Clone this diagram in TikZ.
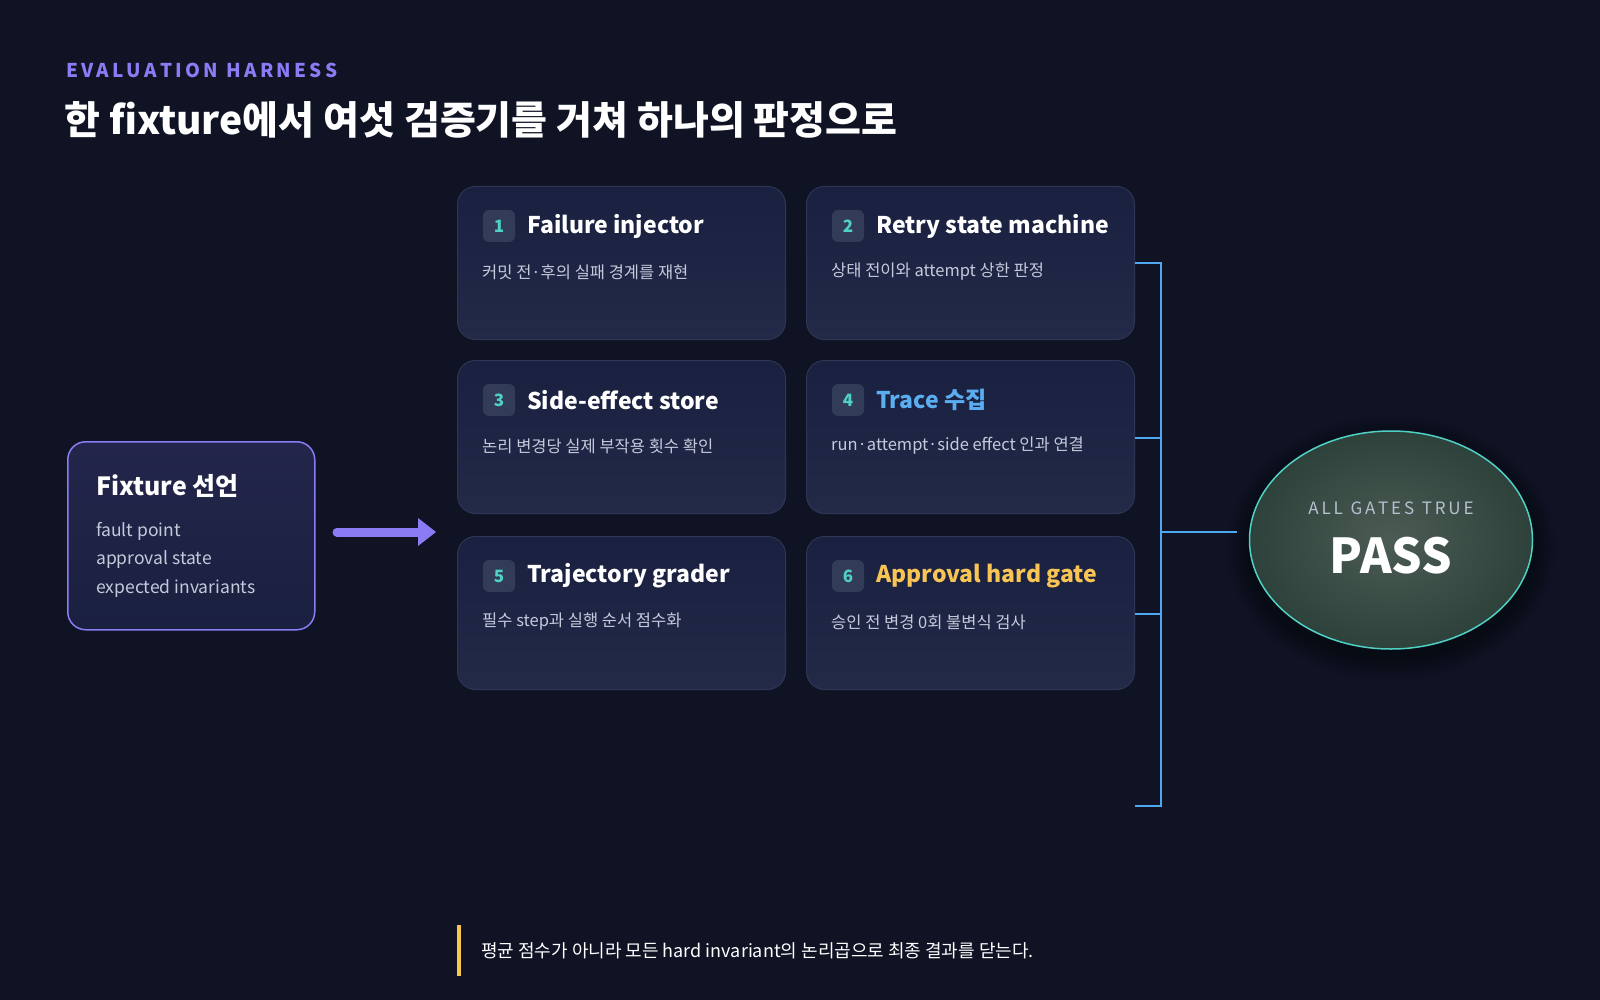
\documentclass[tikz,border=0pt]{standalone}
\usepackage{fontspec}
\setmainfont{Noto Sans CJK KR}
\usetikzlibrary{shapes.geometric}
\definecolor{bg}{HTML}{0F1324}
\definecolor{cardA}{HTML}{1A2040}
\definecolor{cardB}{HTML}{222A48}
\definecolor{cardline}{HTML}{2E3654}
\definecolor{badge}{HTML}{323B58}
\definecolor{teal}{HTML}{4FD1C5}
\definecolor{desc}{HTML}{C5CADB}
\definecolor{blue}{HTML}{5AAEF0}
\definecolor{gold}{HTML}{F8C555}
\definecolor{brk}{HTML}{4EA8F0}
\definecolor{purp}{HTML}{8B7CF6}
\definecolor{gates}{HTML}{B8C0D0}
\tikzset{x=1pt,y=-1pt,
 card/.style={draw=cardline,line width=1pt,rounded corners=18pt,top color=cardA,bottom color=cardB},
 badge/.style={fill=badge,rounded corners=6pt,minimum size=32pt,inner sep=0pt,text=teal,font=\bfseries\fontsize{17}{17}\selectfont},
 ctitle/.style={anchor=west,text=white,font=\bfseries\fontsize{23}{23}\selectfont,inner sep=0pt},
 cdesc/.style={anchor=west,text=desc,font=\fontsize{16.5}{16.5}\selectfont,inner sep=0pt},
 link/.style={draw=brk,line width=2.5pt}}
\begin{document}
\begin{tikzpicture}
\fill[bg] (0,0) rectangle (1600,1000);
\useasboundingbox (0,0) rectangle (1600,1000);
\node[anchor=west,inner sep=0pt,text=purp,font=\bfseries\fontsize{19}{19}\selectfont] (eyebrow) at (66,70) {E\,V\,A\,L\,U\,A\,T\,I\,O\,N\ \ H\,A\,R\,N\,E\,S\,S};
\node[anchor=west,inner sep=0pt,text=white,font=\bfseries\fontsize{39}{39}\selectfont] (head) at (64,120) {한 fixture에서 여섯 검증기를 거쳐 하나의 판정으로};
% cards
\foreach \n/\cx/\cy/\t/\d/\c in {
 1/457/186/Failure injector/커밋 전·후의 실패 경계를 재현/white,
 2/806/186/Retry state machine/상태 전이와 attempt 상한 판정/white,
 3/457/360/Side-effect store/논리 변경당 실제 부작용 횟수 확인/white,
 4/806/360/Trace 수집/run·attempt·side effect 인과 연결/blue,
 5/457/536/Trajectory grader/필수 step과 실행 순서 점수화/white,
 6/806/536/Approval hard gate/승인 전 변경 0회 불변식 검사/gold}{
 \node[card,anchor=north west,minimum width=328pt,minimum height=153pt] (c\n) at (\cx,\cy) {};
 \node[badge] (b\n) at (\cx+42,\cy+40) {\n};
 \node[ctitle,text=\c] (t\n) at (\cx+70,\cy+40) {\t};
 \node[cdesc] (d\n) at (\cx+25,\cy+86) {\d};
}
% fixture
\node[draw=purp,line width=1.5pt,rounded corners=18pt,top color=cardA!80!purp!60!bg,bottom color=cardA,anchor=north west,minimum width=247pt,minimum height=188pt] (fix) at (67,441) {};
\node[anchor=west,inner sep=0pt,text=white,font=\bfseries\fontsize{25}{25}\selectfont] (fixt) at (96,486) {Fixture 선언};
\node[anchor=north west,inner sep=0pt,text=desc,font=\fontsize{17.5}{28.5}\selectfont,align=left] (fixd) at (96,522) {fault point\\approval state\\expected invariants};
\coordinate (arrS) at (337,532);
\coordinate (arrE) at (436,532);
\draw[purp,line width=9pt,line cap=round] (arrS) -- (418,532);
\fill[purp] (arrE) -- (418,518) -- (418,546) -- cycle;
% bracket
\coordinate (bt) at (1161,263);
\coordinate (bb) at (1161,806);
\coordinate (bj) at (1161,532);
\draw[link] (c2.east |- bt) -- (bt) -- (bb) -- (c2.east |- bb);
\draw[link] (c4.east |- 0,438) -- (1161,438);
\draw[link] (c6.east |- 0,614) -- (1161,614);
% PASS
\foreach \i in {1,...,8}{\fill[black,opacity=0.05] (1391,548) ellipse ({141+3*\i} and {109+3*\i});}
\node[ellipse,draw=teal,line width=1.5pt,inner color=green!10!gray!60!bg,outer color=green!20!gray!35!bg,minimum width=283pt,minimum height=218pt] (pass) at (1391,540) {};
\draw[link] (bj) -- (1237,532);
\node[inner sep=0pt,text=gates,font=\fontsize{17}{17}\selectfont] (gt) at (1391,508) {A\,L\,L\ \ G\,A\,T\,E\,S\ \ T\,R\,U\,E};
\node[inner sep=0pt,text=white,font=\bfseries\fontsize{48}{48}\selectfont] (pt) at (1391,556) {PASS};
% note
\coordinate (nb1) at (459,925);
\coordinate (nb2) at (459,976);
\draw[gold,line width=4pt] (nb1) -- (nb2);
\node[anchor=west,inner sep=0pt,text=white,font=\fontsize{18}{18}\selectfont] (note) at (481,951) {평균 점수가 아니라 모든 hard invariant의 논리곱으로 최종 결과를 닫는다.};
\end{tikzpicture}
\end{document}
